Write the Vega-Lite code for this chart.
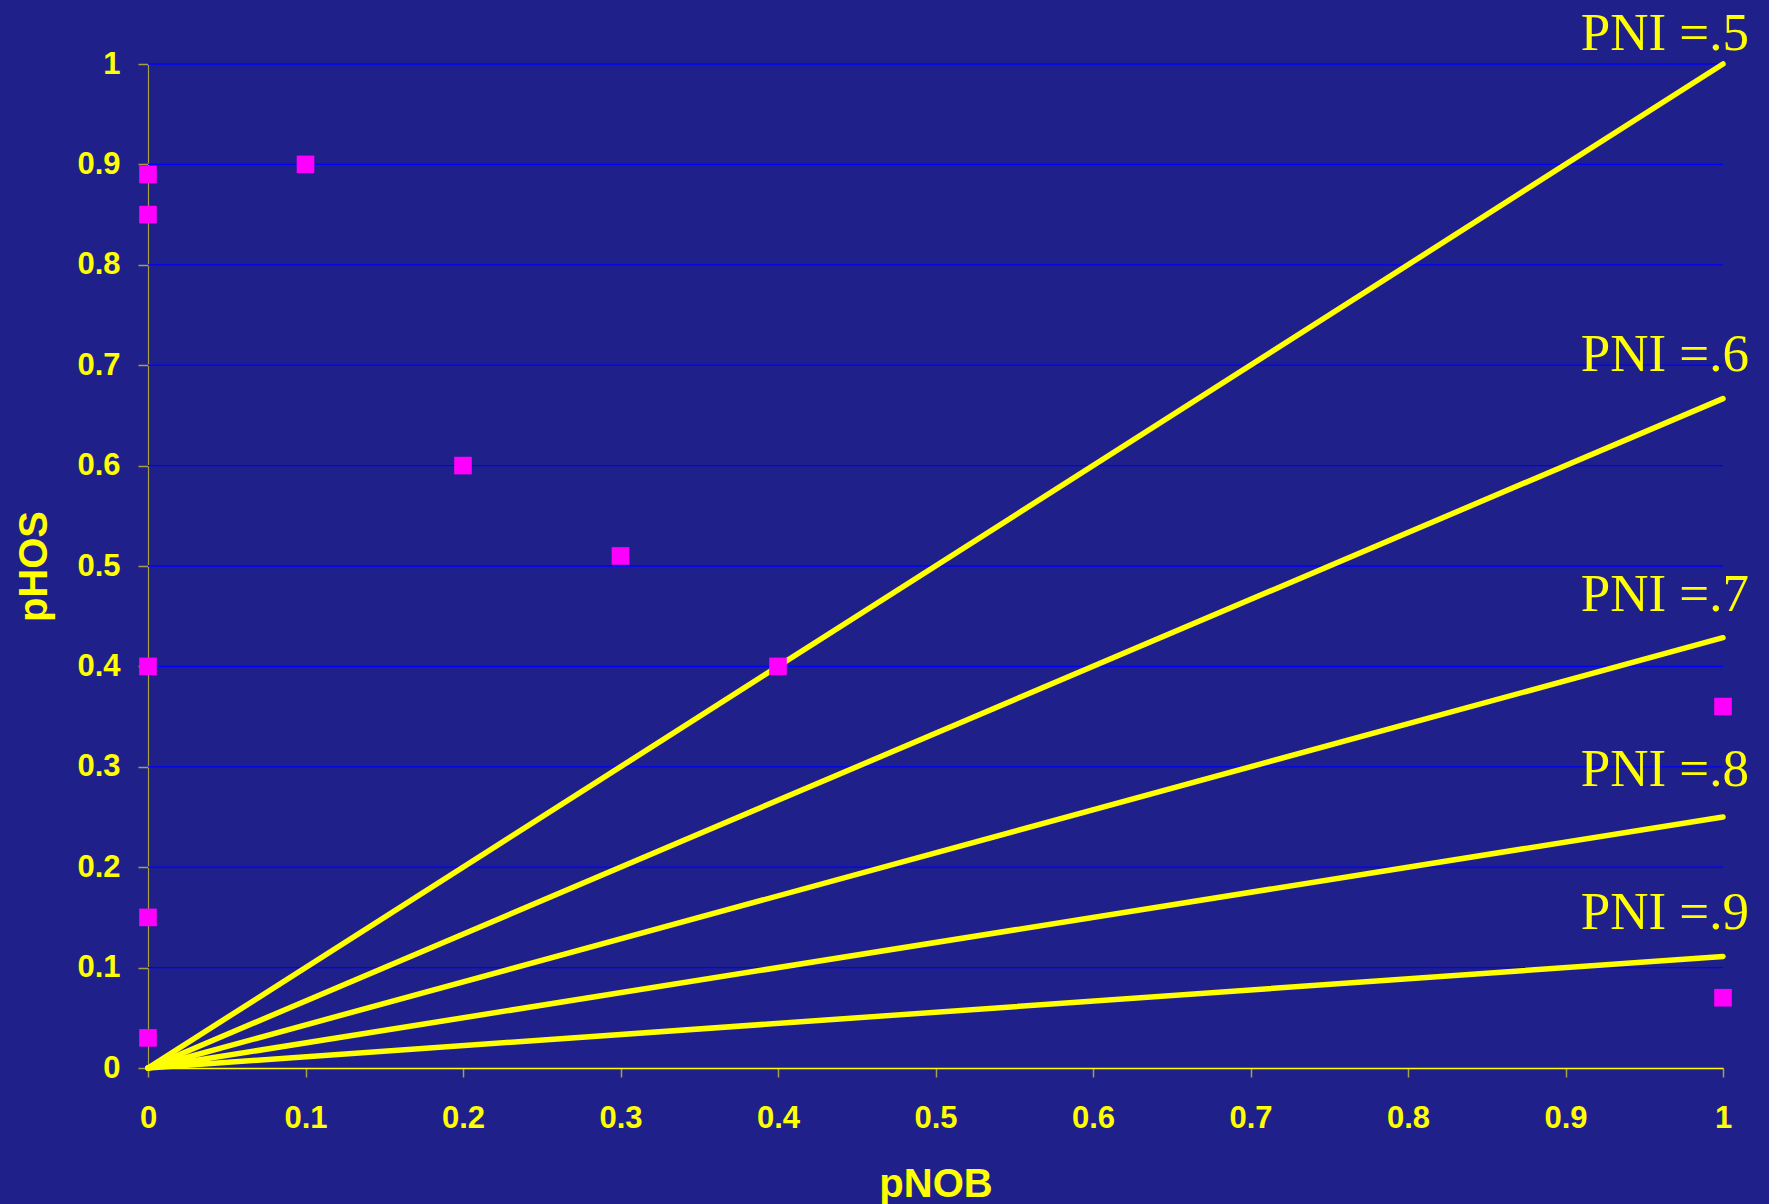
{
  "$schema": "https://vega.github.io/schema/vega-lite/v6.json",
  "width": 1575,
  "height": 1004,
  "autosize": {"type": "none"},
  "padding": {"left": 148, "top": 64, "right": 46, "bottom": 136},
  "background": "#20208A",
  "config": {
    "view": {"stroke": null},
    "font": "Liberation Sans",
    "axis": {
      "grid": false, "zindex": 1, "labelFlush": false, "labelOverlap": false,
      "labelColor": "#FFFF00", "labelFont": "Liberation Sans", "labelFontWeight": "bold", "labelFontSize": 31,
      "titleColor": "#FFFF00", "titleFont": "Liberation Sans", "titleFontWeight": "bold", "titleFontSize": 40,
      "tickColor": "#A8A040"
    },
    "axisX": {"domainColor": "#FFFF00", "domainWidth": 1.5, "tickSize": 9, "tickWidth": 1.5, "labelPadding": 26, "titlePadding": 31},
    "axisY": {"domainColor": "#A8A040", "domainWidth": 1.2, "tickSize": 10, "tickWidth": 1.5, "labelPadding": 18, "titlePadding": 22}
  },
  "datasets": {
    "grid": [{"v": 0.1}, {"v": 0.2}, {"v": 0.3}, {"v": 0.4}, {"v": 0.5}, {"v": 0.6}, {"v": 0.7}, {"v": 0.8}, {"v": 0.9}, {"v": 1.0}],
    "lines": [
      {"pni": 0.5, "x": 0, "y": 0}, {"pni": 0.5, "x": 1, "y": 1.0},
      {"pni": 0.6, "x": 0, "y": 0}, {"pni": 0.6, "x": 1, "y": 0.6667},
      {"pni": 0.7, "x": 0, "y": 0}, {"pni": 0.7, "x": 1, "y": 0.4286},
      {"pni": 0.8, "x": 0, "y": 0}, {"pni": 0.8, "x": 1, "y": 0.25},
      {"pni": 0.9, "x": 0, "y": 0}, {"pni": 0.9, "x": 1, "y": 0.1111}
    ],
    "points": [
      {"pNOB": 0, "pHOS": 0.89}, {"pNOB": 0, "pHOS": 0.85}, {"pNOB": 0.1, "pHOS": 0.9},
      {"pNOB": 0.2, "pHOS": 0.6}, {"pNOB": 0.3, "pHOS": 0.51}, {"pNOB": 0.4, "pHOS": 0.4},
      {"pNOB": 0, "pHOS": 0.4}, {"pNOB": 0, "pHOS": 0.15}, {"pNOB": 0, "pHOS": 0.03},
      {"pNOB": 1, "pHOS": 0.36}, {"pNOB": 1, "pHOS": 0.07}
    ],
    "labels": [
      {"label": "PNI =.5", "x": 1, "ly": 1.014},
      {"label": "PNI =.6", "x": 1, "ly": 0.694},
      {"label": "PNI =.7", "x": 1, "ly": 0.455},
      {"label": "PNI =.8", "x": 1, "ly": 0.281},
      {"label": "PNI =.9", "x": 1, "ly": 0.138}
    ]
  },
  "layer": [
    {
      "data": {"name": "grid"},
      "mark": {"type": "rule", "color": "#0000FF", "strokeWidth": 1.3},
      "encoding": {
        "y": {"field": "v", "type": "quantitative", "title": "pHOS", "scale": {"domain": [0, 1], "nice": false, "zero": false}}
      }
    },
    {
      "data": {"name": "lines"},
      "mark": {"type": "line", "color": "#FFFF00", "strokeWidth": 5.5, "strokeCap": "round"},
      "encoding": {
        "x": {"field": "x", "type": "quantitative", "title": "pNOB", "scale": {"domain": [0, 1], "nice": false, "zero": false}},
        "y": {"field": "y", "type": "quantitative", "title": "pHOS"},
        "detail": {"field": "pni", "type": "nominal"}
      }
    },
    {
      "data": {"name": "points"},
      "mark": {"type": "square", "filled": true, "color": "#FF00FF", "size": 310, "opacity": 1},
      "encoding": {
        "x": {
          "field": "pNOB", "type": "quantitative", "title": "pNOB",
          "axis": {"values": [0, 0.1, 0.2, 0.3, 0.4, 0.5, 0.6, 0.7, 0.8, 0.9, 1], "format": "~g"}
        },
        "y": {
          "field": "pHOS", "type": "quantitative", "title": "pHOS",
          "axis": {"values": [0, 0.1, 0.2, 0.3, 0.4, 0.5, 0.6, 0.7, 0.8, 0.9, 1], "format": "~g"}
        }
      }
    },
    {
      "data": {"name": "labels"},
      "mark": {"type": "text", "align": "right", "baseline": "alphabetic", "dx": 26, "font": "Liberation Serif", "fontSize": 53, "color": "#FFFF00"},
      "encoding": {
        "x": {"field": "x", "type": "quantitative", "title": "pNOB"},
        "y": {"field": "ly", "type": "quantitative", "title": "pHOS"},
        "text": {"field": "label", "type": "nominal"}
      }
    }
  ]
}
